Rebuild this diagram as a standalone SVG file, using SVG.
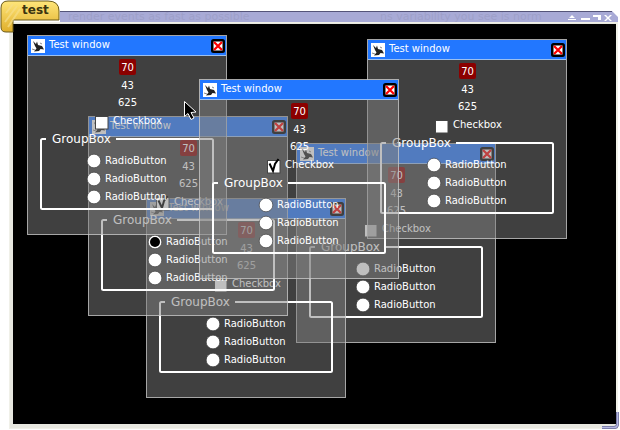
<svg xmlns="http://www.w3.org/2000/svg" width="620" height="430" viewBox="0 0 620 430">
<style>
text{font-family:"DejaVu Sans","Liberation Sans",sans-serif;font-size:10px;fill:#fff}
.bg{fill:rgba(128,128,128,.5);stroke:rgba(200,200,200,.8);stroke-width:1}
.title{fill:#2277ff}
.tline{fill:#9cc0f0}
.val{text-anchor:middle}
.red{fill:#8b0000}
.gl{font-size:12px}
.frame{fill:none;stroke:#fff;stroke-width:2;stroke-linejoin:round}
.cb{fill:#fff;stroke:#444;stroke-width:1}
.rb{fill:#fff;stroke:#333;stroke-width:.6}
</style>
<defs>
<linearGradient id="gold" x1="0" y1="0" x2="0" y2="1"><stop offset="0" stop-color="#ffe67a"/><stop offset="1" stop-color="#dfae2a"/></linearGradient>
<g id="icon"><rect width="14" height="14" fill="#fff"/><path d="M2 2L5 5L6 2.500L7 6L11 7L13 10.500L9.500 10L8 12L3 12.500L5.500 9.500L4 7Z" fill="#222"/><path d="M1 10L4 11M9 4L11 5" stroke="#888" fill="none"/></g>
<g id="close"><rect width="14" height="14" rx="2.500" fill="#000"/><rect x="2.500" y="2.500" width="9" height="9" fill="#fff"/><path d="M3 3L11 11M11 3L3 11" stroke="#f00" stroke-width="2.200"/></g>
<path id="tick" d="M2.500 4.500L6 12L8 5L11.500 0" fill="none" stroke="#000" stroke-width="2"/>
</defs>
<rect width="620" height="430" fill="#fff"/>
<g id="app-frame">
<path d="M60 12H540L545 11H612L618 17V428H9V23H60Z" fill="#a8aad6"/>
<path d="M60 11.500H612" stroke="#55557a" fill="none"/>
<text x="68" y="20" opacity=".06" style="fill:#000;font-size:11px">render events as fast as possible</text>
<text x="380" y="20" opacity=".06" style="fill:#000;font-size:11px">ns variability you see is norm</text>
<rect x="9" y="22" width="609" height="407" fill="#f0f0e8"/>
<rect x="10" y="23" width="606" height="405" fill="#e8e8e0"/>
<path d="M602 427.500H614Q617.500 427.500 617.500 424V412" fill="none" stroke="#6a6c98" stroke-width="3"/>
<path d="M602 427.500H614Q617.500 427.500 617.500 424V412" fill="none" stroke="#b4b6e0" stroke-width="1.500"/>
<rect x="13" y="24" width="603" height="400" fill="#000"/>
<path d="M572 15L575 18H569ZM568 19H576V20H568ZM581 18H590V20H581ZM593 15H601V20H598V17H593ZM604 15L606 15L608 17L610 15L612 15L609 18L612 21L610 21L608 19L606 21L604 21L607 18Z" fill="#fff"/>
</g>
<g id="tab">
<path d="M8 1H48Q59 1 59 11V20H13V32H6Q1 32 1 27V8Q1 1 8 1Z" fill="url(#gold)" stroke="#6b5a1a"/>
<path d="M5 22L17 6M6 13L13 4M8 27L20 9" stroke="#f6de88" stroke-width="2" opacity=".7"/>
<text x="22" y="14" style="font-size:12px;font-weight:bold;fill:#3a3410">test</text>
</g>

<g id="window-d" transform="translate(296,143)">
<rect class="bg" x=".5" y=".5" width="199" height="199"/>
<rect class="title" x="1" y="1" width="198" height="19"/><rect class="tline" x="1" y="20" width="198" height="1"/>
<use href="#icon" x="4" y="4"/><text x="22" y="13">Test window</text><use href="#close" x="184" y="4"/>
<rect class="red" x="92" y="24" width="17" height="16" rx="2"/>
<text class="val" x="100.500" y="36">70</text><text class="val" x="100.500" y="54">43</text><text class="val" x="100.500" y="71">625</text>
<rect class="cb" x="68.500" y="81.500" width="12.500" height="12.500"/><text x="86" y="89">Checkbox</text>
<path class="frame" d="M19 104H15.500Q14 104 14 105.500V172.500Q14 174 15.500 174H184.500Q186 174 186 172.500V105.500Q186 104 184.500 104H89"/>
<text class="gl" x="25" y="108">GroupBox</text>
<circle class="rb" cx="67" cy="126" r="6.800"/><text x="78" y="129">RadioButton</text>
<circle class="rb" cx="67" cy="144" r="6.800"/><text x="78" y="147">RadioButton</text>
<circle class="rb" cx="67" cy="162" r="6.800"/><text x="78" y="165">RadioButton</text>
</g>

<g id="window-e" transform="translate(146,198)">
<rect class="bg" x=".5" y=".5" width="199" height="199"/>
<rect class="title" x="1" y="1" width="198" height="19"/><rect class="tline" x="1" y="20" width="198" height="1"/>
<use href="#icon" x="4" y="4"/><text x="22" y="13">Test window</text><use href="#close" x="184" y="4"/>
<rect class="red" x="92" y="24" width="17" height="16" rx="2"/>
<text class="val" x="100.500" y="36">70</text><text class="val" x="100.500" y="54">43</text><text class="val" x="100.500" y="71">625</text>
<rect class="cb" x="68.500" y="81.500" width="12.500" height="12.500"/><text x="86" y="89">Checkbox</text>
<path class="frame" d="M19 104H15.500Q14 104 14 105.500V172.500Q14 174 15.500 174H184.500Q186 174 186 172.500V105.500Q186 104 184.500 104H89"/>
<text class="gl" x="25" y="108">GroupBox</text>
<circle class="rb" cx="67" cy="126" r="6.800"/><text x="78" y="129">RadioButton</text>
<circle class="rb" cx="67" cy="144" r="6.800"/><text x="78" y="147">RadioButton</text>
<circle class="rb" cx="67" cy="162" r="6.800"/><text x="78" y="165">RadioButton</text>
</g>

<g id="window-b" transform="translate(88,116)">
<rect class="bg" x=".5" y=".5" width="199" height="199"/>
<rect class="title" x="1" y="1" width="198" height="19"/><rect class="tline" x="1" y="20" width="198" height="1"/>
<use href="#icon" x="4" y="4"/><text x="22" y="13">Test window</text><use href="#close" x="184" y="4"/>
<rect class="red" x="92" y="24" width="17" height="16" rx="2"/>
<text class="val" x="100.500" y="36">70</text><text class="val" x="100.500" y="54">43</text><text class="val" x="100.500" y="71">625</text>
<rect class="cb" x="68.500" y="81.500" width="12.500" height="12.500"/><use href="#tick" x="68" y="80"/><text x="86" y="89">Checkbox</text>
<path class="frame" d="M19 104H15.500Q14 104 14 105.500V172.500Q14 174 15.500 174H184.500Q186 174 186 172.500V105.500Q186 104 184.500 104H89"/>
<text class="gl" x="25" y="108">GroupBox</text>
<circle class="rb" cx="67" cy="126" r="6.800"/><circle cx="67" cy="126" r="5" fill="#000"/><text x="78" y="129">RadioButton</text>
<circle class="rb" cx="67" cy="144" r="6.800"/><text x="78" y="147">RadioButton</text>
<circle class="rb" cx="67" cy="162" r="6.800"/><text x="78" y="165">RadioButton</text>
</g>

<g id="window-a" transform="translate(27,35)">
<rect class="bg" x=".5" y=".5" width="199" height="199"/>
<rect class="title" x="1" y="1" width="198" height="19"/><rect class="tline" x="1" y="20" width="198" height="1"/>
<use href="#icon" x="4" y="4"/><text x="22" y="13">Test window</text><use href="#close" x="184" y="4"/>
<rect class="red" x="92" y="24" width="17" height="16" rx="2"/>
<text class="val" x="100.500" y="36">70</text><text class="val" x="100.500" y="54">43</text><text class="val" x="100.500" y="71">625</text>
<rect class="cb" x="68.500" y="81.500" width="12.500" height="12.500"/><text x="86" y="89">Checkbox</text>
<path class="frame" d="M19 104H15.500Q14 104 14 105.500V172.500Q14 174 15.500 174H184.500Q186 174 186 172.500V105.500Q186 104 184.500 104H89"/>
<text class="gl" x="25" y="108">GroupBox</text>
<circle class="rb" cx="67" cy="126" r="6.800"/><text x="78" y="129">RadioButton</text>
<circle class="rb" cx="67" cy="144" r="6.800"/><text x="78" y="147">RadioButton</text>
<circle class="rb" cx="67" cy="162" r="6.800"/><text x="78" y="165">RadioButton</text>
</g>

<g id="window-f" transform="translate(367,39)">
<rect class="bg" x=".5" y=".5" width="199" height="199"/>
<rect class="title" x="1" y="1" width="198" height="19"/><rect class="tline" x="1" y="20" width="198" height="1"/>
<use href="#icon" x="4" y="4"/><text x="22" y="13">Test window</text><use href="#close" x="184" y="4"/>
<rect class="red" x="92" y="24" width="17" height="16" rx="2"/>
<text class="val" x="100.500" y="36">70</text><text class="val" x="100.500" y="54">43</text><text class="val" x="100.500" y="71">625</text>
<rect class="cb" x="68.500" y="81.500" width="12.500" height="12.500"/><text x="86" y="89">Checkbox</text>
<path class="frame" d="M19 104H15.500Q14 104 14 105.500V172.500Q14 174 15.500 174H184.500Q186 174 186 172.500V105.500Q186 104 184.500 104H89"/>
<text class="gl" x="25" y="108">GroupBox</text>
<circle class="rb" cx="67" cy="126" r="6.800"/><text x="78" y="129">RadioButton</text>
<circle class="rb" cx="67" cy="144" r="6.800"/><text x="78" y="147">RadioButton</text>
<circle class="rb" cx="67" cy="162" r="6.800"/><text x="78" y="165">RadioButton</text>
</g>

<g id="window-c" transform="translate(199,79)">
<rect class="bg" x=".5" y=".5" width="199" height="199"/>
<rect class="title" x="1" y="1" width="198" height="19"/><rect class="tline" x="1" y="20" width="198" height="1"/>
<use href="#icon" x="4" y="4"/><text x="22" y="13">Test window</text><use href="#close" x="184" y="4"/>
<rect class="red" x="92" y="24" width="17" height="16" rx="2"/>
<text class="val" x="100.500" y="36">70</text><text class="val" x="100.500" y="54">43</text><text class="val" x="100.500" y="71">625</text>
<rect class="cb" x="68.500" y="81.500" width="12.500" height="12.500"/><use href="#tick" x="68" y="80"/><text x="86" y="89">Checkbox</text>
<path class="frame" d="M19 104H15.500Q14 104 14 105.500V172.500Q14 174 15.500 174H184.500Q186 174 186 172.500V105.500Q186 104 184.500 104H89"/>
<text class="gl" x="25" y="108">GroupBox</text>
<circle class="rb" cx="67" cy="126" r="6.800"/><text x="78" y="129">RadioButton</text>
<circle class="rb" cx="67" cy="144" r="6.800"/><text x="78" y="147">RadioButton</text>
<circle class="rb" cx="67" cy="162" r="6.800"/><text x="78" y="165">RadioButton</text>
</g>

<g id="cursor"><path d="M184.500 101.500V116.500L188 113.500L191 119.500L194 118L191 112.500L196 112Z" fill="#000" stroke="#fff"/></g>
</svg>
